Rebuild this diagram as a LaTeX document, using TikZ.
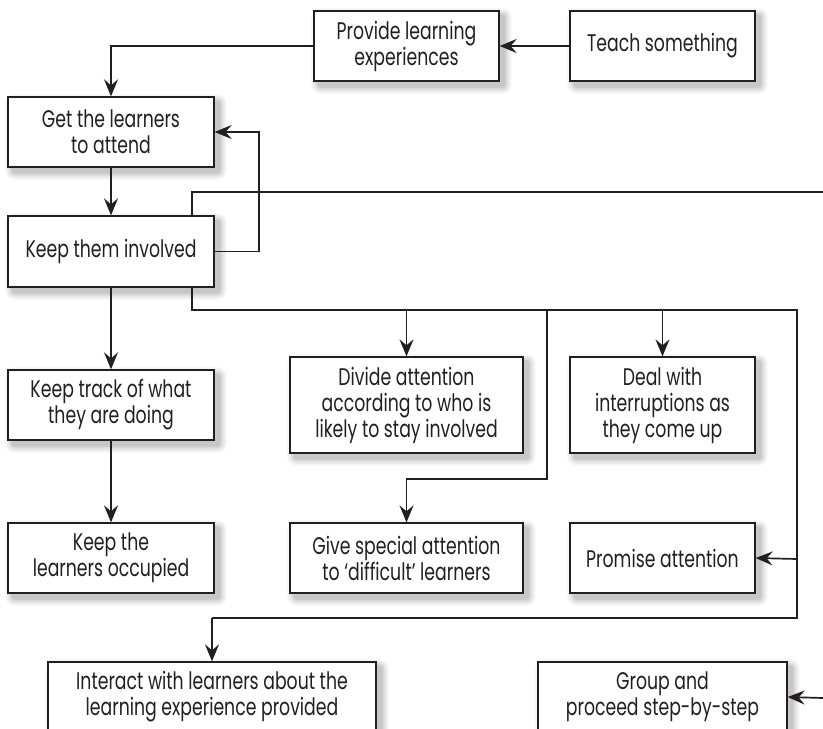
\documentclass[tikz,border=0pt]{standalone}
\usepackage{fontspec}
\setmainfont{Poppins}[FakeStretch=0.72]
\usetikzlibrary{arrows.meta,backgrounds}

\definecolor{ink}{HTML}{231F20}

\tikzset{
  box/.style={draw=ink, line width=1.3pt, fill=white, align=center,
    inner sep=0pt, text=ink,
    font=\fontsize{24}{26}\selectfont},
  link/.style={draw=ink, line width=1.7pt},
  arr/.style={link, -{Stealth[length=17pt,width=14pt,inset=6pt]}},
}

\begin{document}
\begin{tikzpicture}[x=1pt,y=-1pt]
\useasboundingbox (0,0) rectangle (823,729);

% boxes
\node[box, minimum width=185pt, minimum height=70pt] (prov)  at (406.5,46)  {Provide learning\\experiences};
\node[box, minimum width=185pt, minimum height=70pt] (teach) at (662.5,46)  {Teach something};
\node[box, minimum width=206pt, minimum height=70pt] (get)   at (111,132)   {Get the learners\\to attend};
\node[box, minimum width=206pt, minimum height=71pt] (inv)   at (111,251.5) {Keep them involved};
\node[box, minimum width=206pt, minimum height=70pt] (track) at (111,405)   {Keep track of what\\they are doing};
\node[box, minimum width=206pt, minimum height=70pt] (occ)   at (111,558)   {Keep the\\learners occupied};
\node[box, minimum width=233pt, minimum height=96pt] (div)   at (406.5,405) {Divide attention\\according to who is\\likely to stay involved};
\node[box, minimum width=185pt, minimum height=96pt] (deal)  at (662.5,405) {Deal with\\interruptions as\\they come up};
\node[box, minimum width=233pt, minimum height=70pt] (give)  at (406.5,558) {Give special attention\\to ‘difficult’ learners};
\node[box, minimum width=185pt, minimum height=70pt] (prom)  at (662.5,558) {Promise attention};
\node[box, minimum width=328pt, minimum height=70pt] (inter) at (212,697)   {Interact with learners about the\\learning experience provided};
\node[box, minimum width=249pt, minimum height=70pt] (group) at (662.5,697) {Group and\\proceed step-by-step};

% soft drop shadows, built from nested grey rectangles behind each box
\begin{scope}[on background layer]
  \foreach \b in {prov,teach,get,inv,track,occ,div,deal,give,prom,inter,group}{
    \fill[black!4,  rounded corners=9pt]
      ([shift={(-2pt,2pt)}]\b.north west) rectangle ([shift={(12pt,-12pt)}]\b.south east);
    \fill[black!9,  rounded corners=7pt]
      ([shift={(0pt,0pt)}]\b.north west) rectangle ([shift={(10pt,-10pt)}]\b.south east);
    \fill[black!15, rounded corners=5pt]
      ([shift={(2pt,-2pt)}]\b.north west) rectangle ([shift={(8pt,-8pt)}]\b.south east);
    \fill[black!22, rounded corners=3pt]
      ([shift={(4pt,-4pt)}]\b.north west) rectangle ([shift={(6pt,-6pt)}]\b.south east);
  }
\end{scope}

% routing points
\coordinate (topexit) at (823,192);
\coordinate (busL)  at (192,310);
\coordinate (busD)  at (406.5,310);
\coordinate (busG)  at (547,310);
\coordinate (busG2) at (547,479);
\coordinate (busI)  at (662.5,310);
\coordinate (busR)  at (797,310);
\coordinate (busP)  at (797,559);
\coordinate (busB)  at (797,618);
\coordinate (busX)  at (212,618);
\coordinate (grpin) at (823,698);

% connectors
\draw[arr] (teach.west) -- (prov.east);
\draw[arr] (prov.west) -| (get.north);
\draw[arr] (get.south) -- (inv.north);
\draw[arr] (inv.east) -- ++(44,0) |- (get.east);
\draw[link] ([xshift=81pt]inv.north) |- (topexit);
\draw[arr] (inv.south) -- (track.north);
\draw[arr] (track.south) -- (occ.north);

\draw[link] ([xshift=81pt]inv.south) -- (busL) -- (busR) -- (busB) -- (busX);
\draw[arr] (busX) -- (inter.north);
\draw[arr] (busD) -- (div.north);
\draw[arr] (busG) -- (busG2) -| (give.north);
\draw[arr] (busI) -- (deal.north);
\draw[arr] (busP) -- (prom.east);
\draw[arr] (grpin) -- (group.east);
\end{tikzpicture}
\end{document}
